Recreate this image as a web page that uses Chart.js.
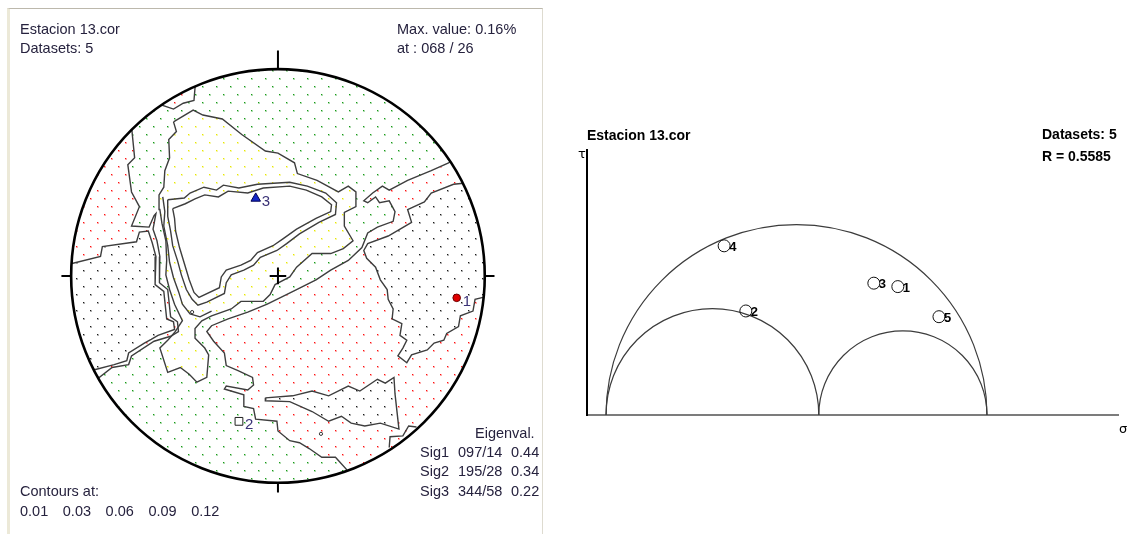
<!DOCTYPE html>
<html>
<head>
<meta charset="utf-8">
<title>Estacion 13.cor</title>
<script src="https://cdn.jsdelivr.net/npm/chart.js@4.4.1/dist/chart.umd.min.js"></script>
<style>
html,body{margin:0;padding:0;background:#fff;}
body{position:relative;width:1135px;height:534px;overflow:hidden;font-family:"Liberation Sans",Arial,sans-serif;}
#panel{position:absolute;left:7px;top:8px;width:532px;height:540px;border-top:1px solid #bcb8ac;border-left:3px solid #ece9d8;border-right:1px solid #dedbd0;}
#net{position:absolute;left:10px;top:10px;}
#mohr{position:absolute;left:560px;top:110px;}
.t{position:absolute;white-space:nowrap;line-height:1;font-size:14.5px;color:#26223e;}
.b{position:absolute;white-space:nowrap;line-height:1;font-size:14px;font-weight:bold;color:#000;}
.g{position:absolute;white-space:nowrap;line-height:1;font-size:13px;color:#000;font-family:"DejaVu Sans",sans-serif;}
</style>
</head>
<body>
<div id="panel"></div>
<canvas id="net" width="532" height="524"></canvas>
<canvas id="mohr" width="575" height="330"></canvas>
<script>
// contour areas of the density plot, equal-area net with radius 1
const redNorth = [[-0.392,1.019],[-0.406,0.849],[-0.458,0.835],[-0.505,0.807],[-0.557,0.825],[-0.604,0.925]];
const redWest = [[-0.840,0.830],[-0.708,0.722],[-0.693,0.571],[-0.726,0.538],[-0.708,0.406],[-0.670,0.335],[-0.708,0.241],
  [-0.623,0.236],[-0.599,0.292],[-0.590,0.302],[-0.604,0.226],[-0.585,0.170],[-0.571,0.094],[-0.575,0.028],[-0.571,-0.033],
  [-0.533,-0.066],[-0.519,-0.198],[-0.486,-0.222],[-0.481,-0.269],[-0.519,-0.292],[-0.599,-0.316],[-0.708,-0.387],
  [-0.722,-0.429],[-0.802,-0.443],[-0.863,-0.491],[-1.123,-0.491],[-1.123,0.830]];
const blackWest = [[-1.123,0.061],[-0.991,0.061],[-0.858,0.094],[-0.849,0.142],[-0.684,0.165],[-0.670,0.212],[-0.627,0.217],
  [-0.608,0.160],[-0.590,0.094],[-0.594,0.028],[-0.594,-0.042],[-0.552,-0.075],[-0.538,-0.208],[-0.505,-0.222],[-0.500,-0.259],
  [-0.580,-0.288],[-0.613,-0.307],[-0.646,-0.325],[-0.722,-0.373],[-0.731,-0.410],[-0.792,-0.429],[-0.882,-0.453],[-1.123,-0.453]];
const redSouthEast = [[0.953,0.642],[0.825,0.547],[0.741,0.509],[0.627,0.462],[0.538,0.415],[0.505,0.434],[0.458,0.401],
  [0.415,0.363],[0.434,0.354],[0.472,0.382],[0.491,0.354],[0.538,0.363],[0.566,0.311],[0.557,0.264],[0.481,0.236],[0.434,0.208],
  [0.406,0.137],[0.340,0.075],[0.255,0.028],[0.184,-0.019],[0.090,-0.066],[0.024,-0.099],[-0.052,-0.137],[-0.146,-0.175],
  [-0.241,-0.208],[-0.321,-0.241],[-0.344,-0.269],[-0.311,-0.316],[-0.259,-0.373],[-0.250,-0.434],[-0.193,-0.458],[-0.123,-0.491],
  [-0.118,-0.528],[-0.146,-0.552],[-0.250,-0.533],[-0.259,-0.547],[-0.165,-0.575],[-0.165,-0.632],[-0.118,-0.642],[-0.108,-0.693],
  [-0.005,-0.703],[0,-0.750],[0.057,-0.797],[0.104,-0.807],[0.151,-0.835],[0.212,-0.877],[0.278,-0.877],[0.330,-0.934],
  [0.387,-1.104],[1.189,-1.104],[1.189,0.642]];
const blackEast = [[1.000,0.594],[0.896,0.448],[0.849,0.443],[0.741,0.401],[0.708,0.358],[0.627,0.321],[0.646,0.259],[0.533,0.193],
  [0.434,0.156],[0.415,0.123],[0.429,0.085],[0.472,0.042],[0.495,-0.019],[0.528,-0.066],[0.533,-0.113],[0.557,-0.160],[0.552,-0.208],
  [0.599,-0.231],[0.590,-0.288],[0.623,-0.311],[0.604,-0.349],[0.580,-0.387],[0.623,-0.420],[0.646,-0.382],[0.722,-0.358],
  [0.755,-0.325],[0.802,-0.311],[0.816,-0.278],[0.873,-0.245],[0.882,-0.193],[0.943,-0.170],[0.953,-0.113],[0.991,-0.104],
  [1.142,-0.113],[1.142,0.594]];
const blackSouth = [[-0.061,-0.590],[0.071,-0.580],[0.165,-0.557],[0.245,-0.580],[0.340,-0.533],[0.396,-0.557],[0.481,-0.500],
  [0.519,-0.519],[0.561,-0.491],[0.566,-0.571],[0.585,-0.741],[0.495,-0.712],[0.420,-0.726],[0.354,-0.712],[0.307,-0.679],
  [0.245,-0.703],[0.165,-0.656],[0.057,-0.608],[-0.061,-0.604],[-0.061,-0.590]];
const yellowCore = [[-0.505,0.745],[-0.410,0.802],[-0.363,0.778],[-0.269,0.759],[-0.175,0.684],[-0.061,0.604],[0,0.594],
  [0.080,0.547],[0.094,0.495],[0.189,0.462],[0.292,0.406],[0.340,0.434],[0.377,0.406],[0.377,0.335],[0.321,0.307],[0.321,0.241],
  [0.363,0.170],[0.316,0.132],[0.255,0.108],[0.165,0.108],[0.090,0.042],[0.057,-0.005],[-0.014,-0.042],[-0.038,-0.090],
  [-0.071,-0.123],[-0.179,-0.123],[-0.226,-0.160],[-0.321,-0.193],[-0.368,-0.217],[-0.401,-0.255],[-0.401,-0.302],[-0.354,-0.349],
  [-0.335,-0.382],[-0.344,-0.491],[-0.392,-0.514],[-0.429,-0.476],[-0.472,-0.443],[-0.533,-0.467],[-0.571,-0.349],[-0.533,-0.311],
  [-0.500,-0.274],[-0.462,-0.217],[-0.500,-0.137],[-0.524,-0.066],[-0.542,0.005],[-0.538,0.075],[-0.542,0.170],[-0.561,0.255],
  [-0.571,0.321],[-0.575,0.392],[-0.552,0.429],[-0.547,0.509],[-0.524,0.571],[-0.528,0.660],[-0.491,0.698],[-0.505,0.745]];
const emptyCore = [[-0.509,0.325],[-0.448,0.349],[-0.401,0.373],[-0.354,0.392],[-0.288,0.382],[-0.241,0.410],[-0.146,0.401],
  [-0.071,0.425],[0.057,0.434],[0.137,0.415],[0.212,0.382],[0.259,0.344],[0.255,0.311],[0.184,0.278],[0.090,0.226],[0.024,0.179],
  [-0.024,0.146],[-0.099,0.113],[-0.132,0.075],[-0.179,0.052],[-0.250,0.028],[-0.274,-0.005],[-0.283,-0.057],[-0.382,-0.104],
  [-0.406,-0.080],[-0.429,-0.019],[-0.453,0.061],[-0.476,0.137],[-0.495,0.217],[-0.500,0.278],[-0.509,0.325]];
const ringMid = [[-0.533,0.368],[-0.453,0.377],[-0.425,0.401],[-0.358,0.429],[-0.297,0.415],[-0.264,0.439],[-0.189,0.425],
  [-0.099,0.443],[0.057,0.453],[0.142,0.434],[0.231,0.401],[0.283,0.354],[0.278,0.297],[0.198,0.259],[0.104,0.203],[0.042,0.156],
  [-0.005,0.123],[-0.085,0.090],[-0.118,0.052],[-0.165,0.028],[-0.226,0.005],[-0.250,-0.033],[-0.259,-0.085],[-0.344,-0.127],
  [-0.387,-0.142],[-0.415,-0.113],[-0.443,-0.066],[-0.467,0.005],[-0.486,0.075],[-0.509,0.146],[-0.519,0.217],[-0.533,0.288],
  [-0.533,0.368]];
const ringWest = [[-0.557,0.382],[-0.547,0.311],[-0.552,0.241],[-0.533,0.146],[-0.524,0.066],[-0.505,-0.009],[-0.481,-0.075],
  [-0.462,-0.137],[-0.425,-0.184],[-0.377,-0.198],[-0.321,-0.170]];
const edgeSE = [[0.538,-0.830],[0.542,-0.778],[0.604,-0.774],[0.632,-0.726],[0.670,-0.731]];
const tinyClosures = [[0.208,-0.764],[-0.415,-0.175]];

// eigenvectors, contour levels, header values
const sigNames = ['Sig1','Sig2','Sig3'];
const sigTrend = [97,195,344];
const sigPlunge = [14,28,58];
const sigEigen = [0.44,0.34,0.22];
const contourLevels = [0.01,0.03,0.06,0.09,0.12];
const maxValue = 0.16;
const maxAt = [68,26];
const datasetCount = 5;

// Mohr diagram
const mohrLabels = ['1','2','3','4','5'];
const mohrSigma = [0.766,0.367,0.703,0.310,0.874];
const mohrTau = [0.337,0.273,0.346,0.444,0.258];
const stressRatio = 0.5585;

const pad3 = n => String(n).padStart(3,'0');
function put(cls, txt, left, baseline, size) {
  const d = document.createElement('div');
  d.className = cls; d.textContent = txt;
  d.style.left = left + 'px';
  d.style.top = (baseline - 0.8465 * size) + 'px';
  document.body.appendChild(d);
}

put('t', 'Estacion 13.cor', 20, 34.5, 14.5);
put('t', 'Datasets: ' + datasetCount, 20, 53, 14.5);
put('t', 'Max. value: ' + maxValue.toFixed(2) + '%', 397, 34.5, 14.5);
put('t', 'at : ' + pad3(maxAt[0]) + ' / ' + maxAt[1], 397, 53, 14.5);
put('t', 'Contours at:', 20, 496, 14.5);
contourLevels.forEach((v, i) => put('t', v.toFixed(2), 20 + i * 42.8, 516, 14.5));
put('t', 'Eigenval.', 475, 438, 14.5);
sigNames.forEach((s, i) => {
  const base = 457 + i * 19.5;
  put('t', s, 420, base, 14.5);
  put('t', pad3(sigTrend[i]) + '/' + sigPlunge[i], 458, base, 14.5);
  put('t', sigEigen[i].toFixed(2), 511, base, 14.5);
});
put('b', 'Estacion 13.cor', 587, 140, 14);
put('b', 'Datasets: ' + datasetCount, 1042, 139, 14);
put('b', 'R = ' + stressRatio.toFixed(4), 1042, 161, 14);
put('g', 'τ', 578, 158, 13);
put('g', 'σ', 1119, 433, 13);

// dotted fill, one soft dot per staggered cell
function dotPattern(color) {
  const c = document.createElement('canvas');
  c.width = 14; c.height = 16;
  const g = c.getContext('2d');
  g.fillStyle = '#fff'; g.fillRect(0, 0, 14, 16);
  g.fillStyle = color;
  g.globalAlpha = 0.35;
  g.fillRect(3, 4, 2, 2); g.fillRect(10, 12, 2, 2);
  g.globalAlpha = 1;
  g.fillRect(3, 4, 1, 1); g.fillRect(10, 12, 1, 1);
  return g.createPattern(c, 'repeat');
}
const pat = {
  black: dotPattern('#1a1a1a'),
  red: dotPattern('#ff1010'),
  green: dotPattern('#169a16'),
  yellow: dotPattern('#e8e800')
};

const toXY = pts => pts.map(([x, y]) => ({x, y}));
const area = (pts, bg) => ({data: toXY(pts), showLine: true, fill: 'shape', backgroundColor: bg,
  borderColor: '#3e3e3e', borderWidth: 1.4, pointRadius: 0});
const line = pts => ({data: toXY(pts), showLine: true, fill: false, borderColor: '#3e3e3e', borderWidth: 1.4, pointRadius: 0});

// lower-hemisphere equal-area position of a trend / plunge
function project(trend, plunge) {
  const r = Math.SQRT2 * Math.sin((90 - plunge) / 2 * Math.PI / 180);
  const t = trend * Math.PI / 180;
  return {x: r * Math.sin(t), y: r * Math.cos(t)};
}
const sigStyle = [
  {pointStyle: 'circle', pointRadius: 3.8, pointBackgroundColor: '#e00000', pointBorderColor: '#700000'},
  {pointStyle: 'rect', pointRadius: 5.5, pointBackgroundColor: '#ffffff', pointBorderColor: '#202020'},
  {pointStyle: 'triangle', pointRadius: 5.5, pointBackgroundColor: '#1428c8', pointBorderColor: '#000050'}
];
const sigSets = sigNames.map((s, i) => Object.assign({
  label: s, data: [project(sigTrend[i], sigPlunge[i])], showLine: false, pointBorderWidth: 1
}, sigStyle[i]));

const layers = [
  area(redNorth, pat.red),
  area(redWest, pat.red),
  area(blackWest, pat.black),
  area(redSouthEast, pat.red),
  area(blackEast, pat.black),
  area(blackSouth, pat.black),
  area(yellowCore, pat.yellow),
  area(emptyCore, '#ffffff'),
  line(ringMid),
  line(ringWest),
  line(edgeSE),
  {data: toXY(tinyClosures), showLine: false, pointRadius: 1.6, pointBackgroundColor: '#fff',
    pointBorderColor: '#333', pointBorderWidth: 1},
  ...sigSets
];
layers.forEach((d, i) => { d.order = layers.length - i; });

const netFrame = {
  id: 'netFrame',
  beforeDraw(chart) {
    const {ctx, scales: {x, y}} = chart;
    const cx = x.getPixelForValue(0), cy = y.getPixelForValue(0), r = x.getPixelForValue(1) - cx;
    ctx.save();
    ctx.beginPath(); ctx.arc(cx, cy, r, 0, Math.PI * 2); ctx.clip();
    ctx.fillStyle = pat.green;
    ctx.fillRect(cx - r, cy - r, 2 * r, 2 * r);
  },
  afterDatasetsDraw(chart) {
    const {ctx, scales: {x, y}} = chart;
    ctx.restore();
    const cx = x.getPixelForValue(0), cy = y.getPixelForValue(0), r = x.getPixelForValue(1) - cx;
    ctx.save();
    ctx.strokeStyle = '#000';
    ctx.lineWidth = 2.6;
    ctx.beginPath(); ctx.arc(cx, cy, r, 0, Math.PI * 2); ctx.stroke();
    ctx.lineWidth = 2;
    ctx.beginPath();
    ctx.moveTo(cx, cy - r); ctx.lineTo(cx, cy - r * 1.09);
    ctx.moveTo(cx + r, cy); ctx.lineTo(cx + r * 1.047, cy);
    ctx.moveTo(cx, cy + r); ctx.lineTo(cx, cy + r * 1.047);
    ctx.moveTo(cx - r, cy); ctx.lineTo(cx - r * 1.047, cy);
    const k = r * 0.04;
    ctx.moveTo(cx - k, cy); ctx.lineTo(cx + k, cy);
    ctx.moveTo(cx, cy - k); ctx.lineTo(cx, cy + k);
    ctx.stroke();
    ctx.fillStyle = '#3a3276';
    ctx.font = '15px "Liberation Sans", Arial, sans-serif';
    sigSets.forEach((s, i) => {
      const p = chart.getDatasetMeta(layers.indexOf(s)).data[0];
      ctx.fillText(String(i + 1), p.x + 6, p.y + 8);
    });
    ctx.restore();
  }
};

new Chart(document.getElementById('net'), {
  type: 'scatter',
  data: {datasets: layers},
  options: {
    responsive: false, animation: false, events: [],
    layout: {padding: 0},
    plugins: {legend: {display: false}, tooltip: {enabled: false}, filler: {drawTime: 'beforeDatasetsDraw'}},
    scales: {
      x: {type: 'linear', display: false, min: -1.2642, max: 1.2453},
      y: {type: 'linear', display: false, min: -1.2170, max: 1.2547}
    }
  },
  plugins: [netFrame]
});

const sigma = [1, stressRatio, 0];
const mohrArcs = [[sigma[2], sigma[0]], [sigma[2], sigma[1]], [sigma[1], sigma[0]]];
const mohrCircles = {
  id: 'mohrCircles',
  beforeDatasetsDraw(chart) {
    const {ctx, scales: {x, y}} = chart;
    ctx.save();
    ctx.strokeStyle = '#3c3c3c';
    ctx.lineWidth = 1.2;
    mohrArcs.forEach(([a, b]) => {
      const cx = x.getPixelForValue((a + b) / 2), cy = y.getPixelForValue(0);
      const rp = x.getPixelForValue(b) - cx;
      ctx.beginPath(); ctx.arc(cx, cy, rp, Math.PI, Math.PI * 2); ctx.stroke();
    });
    ctx.restore();
  },
  afterDatasetsDraw(chart) {
    const ctx = chart.ctx;
    ctx.save();
    ctx.fillStyle = '#000';
    ctx.font = 'bold 13px "Liberation Sans", Arial, sans-serif';
    chart.getDatasetMeta(0).data.forEach((p, i) => ctx.fillText(mohrLabels[i], p.x + 5, p.y + 5));
    ctx.restore();
  }
};

new Chart(document.getElementById('mohr'), {
  type: 'scatter',
  data: {datasets: [{
    data: mohrSigma.map((s, i) => ({x: s, y: mohrTau[i]})),
    pointRadius: 6, pointBackgroundColor: 'rgba(255,255,255,0)', pointBorderColor: '#111', pointBorderWidth: 1
  }]},
  options: {
    responsive: false, animation: false, events: [],
    layout: {padding: {left: 27, top: 40, right: 17, bottom: 25}},
    plugins: {legend: {display: false}, tooltip: {enabled: false}},
    scales: {
      x: {type: 'linear', min: -0.05, max: 1.344, ticks: {display: false},
        grid: {display: false, drawTicks: false}, border: {display: true, color: '#7c7c7c', width: 2}},
      y: {type: 'linear', min: 0, max: 0.6955, ticks: {display: false},
        grid: {display: false, drawTicks: false}, border: {display: true, color: '#000', width: 2}}
    }
  },
  plugins: [mohrCircles]
});
</script>
</body>
</html>
